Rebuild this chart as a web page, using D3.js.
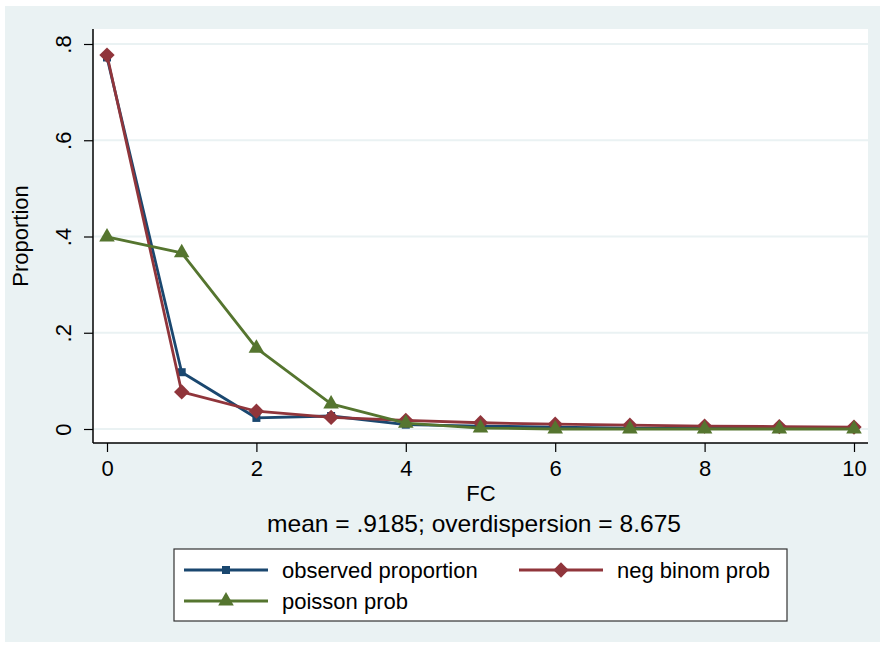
<!DOCTYPE html>
<html>
<head>
<meta charset="utf-8">
<script src="https://cdn.jsdelivr.net/npm/d3@7"></script>
<style>
  body { margin: 0; background: #fff; }
  text { font-family: "Liberation Sans", Arial, sans-serif; fill: #000; }
</style>
</head>
<body>
<div class="svg-container"></div>
<script>
// values
const fc = [0, 1, 2, 3, 4, 5, 6, 7, 8, 9, 10];
const observed = [0.772, 0.118, 0.023, 0.027, 0.009, 0.006, 0.004, 0.002, 0.002, 0.001, 0.001];
const negBinom = [0.777, 0.077, 0.037, 0.024, 0.018, 0.013, 0.010, 0.008, 0.006, 0.005, 0.004];
const poisson = [0.399, 0.366, 0.168, 0.052, 0.012, 0.002, 0.000, 0.000, 0.000, 0.000, 0.000];
const xTicks = [0, 2, 4, 6, 8, 10];
const yTicks = [0, 0.2, 0.4, 0.6, 0.8];
const yTickLabels = ['0', '.2', '.4', '.6', '.8'];

const width = 883;
const height = 648;
const plot = { left: 93, right: 868, top: 29, bottom: 443 };
const fontSize = 22;

const navy = '#1a476f';
const maroon = '#90353b';
const green = '#55752f';
const bg = '#eaf2f3';

const svg = d3.select('.svg-container')
  .append('svg')
  .attr('width', width)
  .attr('height', height);

// outer graph region
svg.append('rect')
  .attr('x', 5).attr('y', 6)
  .attr('width', 875).attr('height', 636)
  .attr('fill', bg);

// plot region
svg.append('rect')
  .attr('x', plot.left).attr('y', plot.top)
  .attr('width', plot.right - plot.left).attr('height', plot.bottom - plot.top)
  .attr('fill', '#fff');

const x = d3.scaleLinear().domain([0, 10]).range([107, 854]);
const y = d3.scaleLinear().domain([0, 0.8]).range([429, 44]);

// gridlines
svg.append('g')
  .selectAll('line')
  .data(yTicks)
  .enter()
  .append('line')
  .attr('x1', plot.left).attr('x2', plot.right)
  .attr('y1', (d) => y(d)).attr('y2', (d) => y(d))
  .attr('stroke', bg)
  .attr('stroke-width', 2);

// y axis
const yAxis = svg.append('g')
  .attr('transform', `translate(${plot.left},0)`)
  .call(d3.axisLeft(y).tickValues(yTicks).tickSize(9).tickPadding(12)
    .tickFormat((d, i) => yTickLabels[i]));
yAxis.select('.domain').attr('d', `M0,${plot.top}V${plot.bottom}`).attr('stroke', '#000').attr('stroke-width', 1.5);
yAxis.selectAll('.tick line').attr('stroke', '#000').attr('stroke-width', 1.2);
yAxis.selectAll('.tick text')
  .attr('font-size', fontSize)
  .attr('font-family', '"Liberation Sans", Arial, sans-serif')
  .attr('text-anchor', 'middle')
  .attr('dy', null)
  .attr('x', null)
  .attr('transform', 'translate(-30,0) rotate(-90)')
  .attr('dominant-baseline', 'central');

// x axis
const xAxis = svg.append('g')
  .attr('transform', `translate(0,${plot.bottom})`)
  .call(d3.axisBottom(x).tickValues(xTicks).tickSize(9).tickPadding(8));
xAxis.select('.domain').attr('d', `M${plot.left},0H${plot.right}`).attr('stroke', '#000').attr('stroke-width', 1.5);
xAxis.selectAll('.tick line').attr('stroke', '#000').attr('stroke-width', 1.2);
xAxis.selectAll('.tick text')
  .attr('font-size', fontSize)
  .attr('font-family', '"Liberation Sans", Arial, sans-serif');

// axis titles
svg.append('text')
  .attr('transform', `translate(28,${(plot.top + plot.bottom) / 2}) rotate(-90)`)
  .attr('text-anchor', 'middle')
  .attr('font-size', fontSize)
  .text('Proportion');

svg.append('text')
  .attr('x', 481).attr('y', 501)
  .attr('text-anchor', 'middle')
  .attr('font-size', fontSize)
  .text('FC');

svg.append('text')
  .attr('x', 267).attr('y', 532)
  .attr('font-size', 24)
  .attr('textLength', 414)
  .attr('lengthAdjust', 'spacingAndGlyphs')
  .text('mean = .9185; overdispersion = 8.675');

const series = [
  { name: 'observed proportion', values: observed, colour: navy, symbol: d3.symbolSquare, size: 64 },
  { name: 'neg binom prob', values: negBinom, colour: maroon, symbol: d3.symbolDiamond2, size: 150 },
  { name: 'poisson prob', values: poisson, colour: green, symbol: d3.symbolTriangle, size: 105 }
];

const line = d3.line()
  .x((d) => x(d[0]))
  .y((d) => y(d[1]));

// draw order: observed, neg binom, poisson (poisson on top)
series.forEach((s) => {
  const pts = fc.map((f, i) => [f, s.values[i]]);
  svg.append('path')
    .datum(pts)
    .attr('d', line)
    .attr('fill', 'none')
    .attr('stroke', s.colour)
    .attr('stroke-width', 2.8)
    .attr('stroke-linejoin', 'round');
  svg.append('g')
    .selectAll('path')
    .data(pts)
    .enter()
    .append('path')
    .attr('transform', (d) => `translate(${x(d[0])},${y(d[1])})`)
    .attr('d', d3.symbol().type(s.symbol).size(s.size))
    .attr('fill', s.colour);
});

// legend
const legend = svg.append('g');
legend.append('rect')
  .attr('x', 174).attr('y', 549)
  .attr('width', 613).attr('height', 72)
  .attr('fill', '#fff')
  .attr('stroke', '#333')
  .attr('stroke-width', 1.2);

const legendPos = [
  { lx: 184, ly: 570 },
  { lx: 519, ly: 570 },
  { lx: 184, ly: 601 }
];

series.forEach((s, i) => {
  const p = legendPos[i];
  legend.append('line')
    .attr('x1', p.lx).attr('x2', p.lx + 84)
    .attr('y1', p.ly).attr('y2', p.ly)
    .attr('stroke', s.colour)
    .attr('stroke-width', 2.8);
  legend.append('path')
    .attr('transform', `translate(${p.lx + 42},${p.ly})`)
    .attr('d', d3.symbol().type(s.symbol).size(s.size))
    .attr('fill', s.colour);
  legend.append('text')
    .attr('x', p.lx + 98).attr('y', p.ly)
    .attr('dominant-baseline', 'central')
    .attr('font-size', fontSize)
    .text(s.name);
});
</script>
</body>
</html>
